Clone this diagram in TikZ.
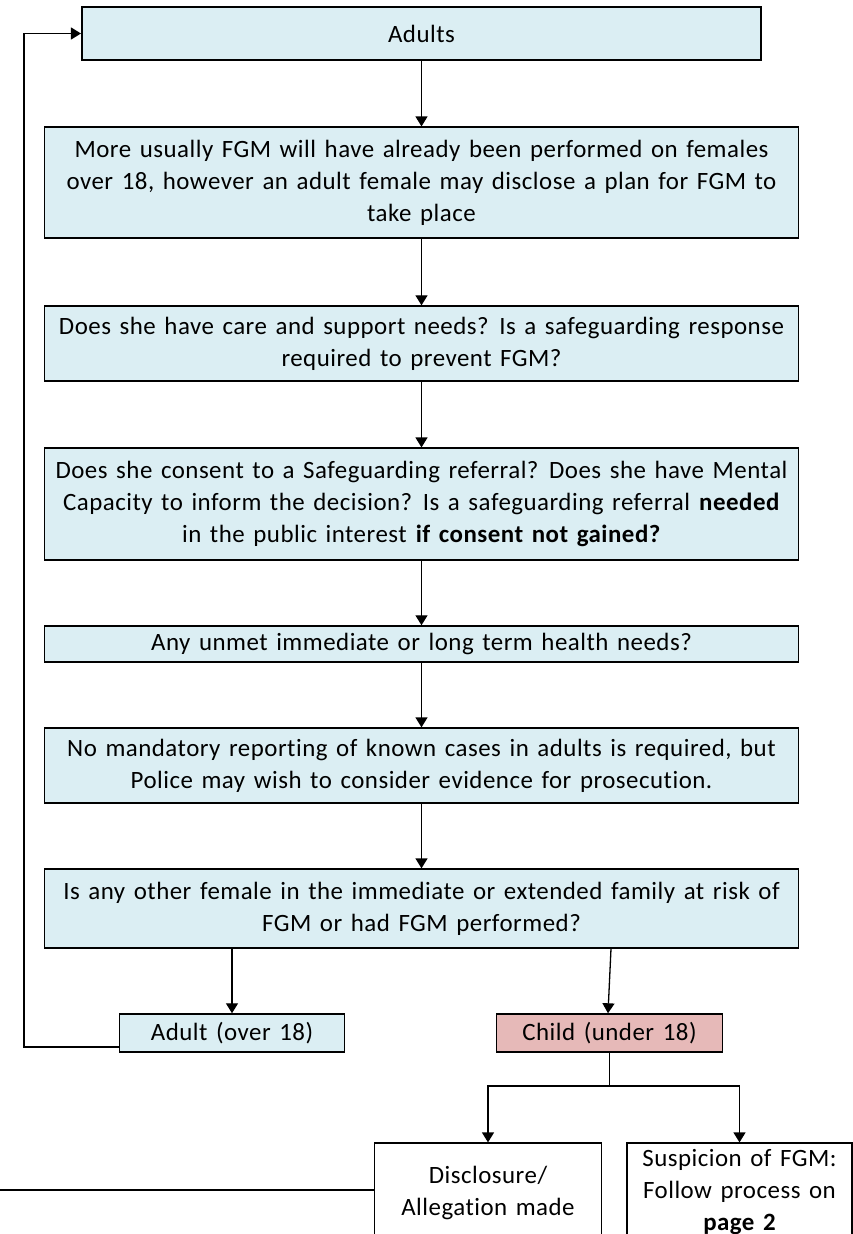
\documentclass[tikz,border=0pt]{standalone}
\usepackage{fontspec}
\setmainfont{Carlito}[WordSpace=1.4, LetterSpace=2, Ligatures=NoCommon]
\usetikzlibrary{arrows.meta,calc}
\definecolor{boxblue}{RGB}{219,238,243}
\definecolor{boxpink}{RGB}{230,185,184}
\begin{document}
\begin{tikzpicture}[x=1bp,y=-1bp,
  box/.style={draw=black, line width=1.6bp, fill=boxblue, align=center, inner sep=0pt,
    font=\fontsize{25}{32}\selectfont},
  wbox/.style={box, fill=white},
  arr/.style={-{Triangle[length=10bp,width=12bp]}, line width=1.3bp},
  ln/.style={line width=1.3bp}]
\useasboundingbox (0,0) rectangle (853,1234);
\clip (0,0) rectangle (853,1234);
\node[box, minimum width=682, minimum height=53] (b1) at (421.5,33.5) {Adults};
\node[box, minimum width=757, minimum height=111] (b2) at (421.5,182.5)
  {More usually FGM will have already been performed on females\\ over 18, however an adult female may disclose a plan for FGM to\\ take place};
\node[box, minimum width=757, minimum height=75] (b3) at (421.5,343.5)
  {Does she have care and support needs? Is a safeguarding response\\ required to prevent FGM?};
\node[box, minimum width=757, minimum height=112] (b4) at (421.5,504)
  {Does she consent to a Safeguarding referral? Does she have Mental\\ Capacity to inform the decision? Is a safeguarding referral \textbf{needed}\\ in the public interest \textbf{if consent not gained?}};
\node[box, minimum width=757, minimum height=36] (b5) at (421.5,644)
  {Any unmet immediate or long term health needs?};
\node[box, minimum width=757, minimum height=75] (b6) at (421.5,765.5)
  {No mandatory reporting of known cases in adults is required, but\\ Police may wish to consider evidence for prosecution.};
\node[box, minimum width=757, minimum height=79] (b7) at (421.5,908.5)
  {Is any other female in the immediate or extended family at risk of\\ FGM or had FGM performed?};
\node[box, minimum width=226, minimum height=38] (adult) at (232,1033) {Adult (over 18)};
\node[box, fill=boxpink, minimum width=227, minimum height=38] (child) at (609.5,1033) {Child (under 18)};
\node[wbox, minimum width=228, minimum height=100] (disc) at (488,1193) {Disclosure/\\ Allegation made};
\node[wbox, minimum width=226, minimum height=100] (susp) at (739.5,1193) {Suspicion of FGM:\\ Follow process on\\ \textbf{\underline{page 2}}};
\draw[arr] (b1.south) -- (b1.south |- b2.north);
\draw[arr] (b2) -- (b3);
\draw[arr] (b3) -- (b4);
\draw[arr] (b4) -- (b5);
\draw[arr] (b5) -- (b6);
\draw[arr] (b6) -- (b7);
\draw[arr] (b7.south -| adult.north) -- (adult.north);
\draw[arr] ($(b7.south -| child.north)+(1.5,0)$) -- ($(child.north)+(-1.5,0)$);
\coordinate (cj) at (609.5,1086);
\draw[ln] (child.south) -- (cj);
\draw[arr] (cj) -| (disc.north);
\draw[arr] (cj) -| (susp.north);
\coordinate (fb) at (24,1047);
\draw[arr] (adult.west |- fb) -- (fb) |- (b1.west);
\coordinate (le) at (0,1190);
\draw[ln] (le) -- (disc.west |- le);
\end{tikzpicture}
\end{document}
